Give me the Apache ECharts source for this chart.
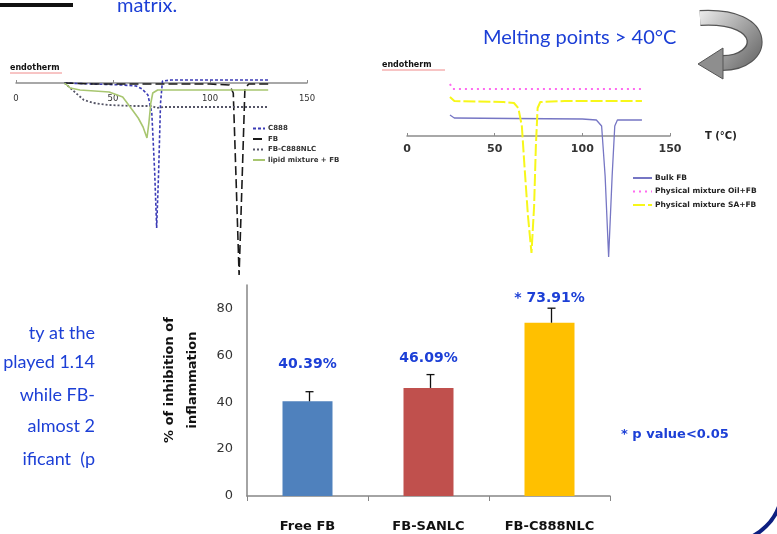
<!DOCTYPE html>
<html>
<head>
<meta charset="utf-8">
<script src="https://cdn.jsdelivr.net/npm/echarts@6/dist/echarts.min.js"></script>
<style>
  html, body { margin: 0; padding: 0; background: #ffffff; }
  #chart { width: 777px; height: 534px; }
</style>
</head>
<body>
<div id="chart"></div>
<script>
// ---------- Bar chart data ----------
const barCategories = ['Free FB', 'FB-SANLC', 'FB-C888NLC'];
const barValues = [40.39, 46.09, 73.91];
const barErrors = [4.1, 5.7, 6.2];
const barLabels = ['40.39%', '46.09%', '* 73.91%'];
const barAxisMin = 0;
const barAxisMax = 90;
const barAxisInterval = 20;
const barAxisName = '% of inhibition of\ninflammation';

// ---------- DSC thermograms (left panel) : [T (°C), heat flow (a.u.)] ----------
const dscLeftNames = ['C888', 'FB', 'FB-C888NLC', 'lipid mixture + FB'];
const dscLeftC888 = [[25,0],[40,-1],[55,-2],[62,-3],[65,-6],[68,-12],[70,-30],[71.5,-90],[72.5,-145],[73.5,-90],[74.5,-20],[75.5,2],[80,3],[130,3]];
const dscLeftFB = [[25,0],[40,-1],[60,-1],[80,-1],[100,-1],[110,-2],[112,-10],[113.5,-100],[115,-192],[116.5,-100],[118,-5],[120,-1],[130,-1]];
const dscLeftNLC = [[25,0],[28,-5],[32,-12],[35,-17],[40,-20],[48,-22],[60,-23],[70,-23],[72.5,-25],[76,-24],[100,-24],[130,-24]];
const dscLeftMix = [[25,0],[28,-5],[33,-7],[48,-9],[55,-14],[60,-27],[63,-35],[65.5,-44],[67.5,-55],[68.5,-40],[69.5,-20],[70.5,-10],[73,-7],[130,-7]];

// ---------- DSC thermograms (right panel) ----------
const dscRightNames = ['Bulk FB', 'Physical mixture Oil+FB', 'Physical mixture SA+FB'];
const dscRightBulk = [[24.5,21],[27,18],[60,17.5],[100,17],[108,16],[111,10],[113,-40],[115,-121],[117,-40],[118.5,10],[120,16],[134,16]];
const dscRightOil = [[24.5,52],[26,47],[134,47]];
const dscRightSA = [[24.5,39],[27,35],[40,34.5],[55,34],[61,33],[63.5,28],[65.5,10],[67,-30],[69,-80],[71,-117],[72.5,-70],[73.5,-10],[74.5,28],[76,34],[90,35],[134,35]];

// ---------- Slide texts ----------
const sideTextLines = ['ty at the', 'played 1.14', 'while FB-', 'almost 2', 'ificant  (p'];
const headerText = 'matrix.';
const meltingText = 'Melting points > 40\u00B0C';
const pValueText = '* p value<0.05';
const endothermText = 'endotherm';
const tempAxisName = 'T (\u00B0C)';

const BLUE = '#1c3fd6';
const chart = echarts.init(document.getElementById('chart'), null, { renderer: 'canvas' });

const barColors = ['#4f81bd', '#c0504d', '#ffc000'];
const labelGaps = [30, 23, 17];

function dscXAxis(gridIndex, labelSize, labelWeight, margin, name) {
  return {
    type: 'value', gridIndex: gridIndex, min: 0, max: 150, interval: 50,
    name: name || '', nameLocation: 'end', nameGap: 35,
    nameTextStyle: { fontSize: 10, fontWeight: 'bold', color: '#222', fontFamily: 'DejaVu Sans', padding: [12, 0, 0, 0] },
    axisLine: { onZero: false, lineStyle: { color: '#8c8c8c', width: 1.5 } },
    axisTick: { show: true, inside: true, length: 3, lineStyle: { color: '#8c8c8c' } },
    axisLabel: { fontSize: labelSize, color: '#333', margin: margin, fontFamily: 'DejaVu Sans', fontWeight: labelWeight },
    splitLine: { show: false }
  };
}

function line(name, data, xi, color, type, width) {
  return {
    name: name, type: 'line', xAxisIndex: xi, yAxisIndex: xi, data: data,
    symbol: 'none', smooth: false, silent: true, animation: false, clip: false,
    lineStyle: { color: color, type: type, width: width },
    itemStyle: { color: color }
  };
}

const arrowGradient = new echarts.graphic.LinearGradient(0, 0, 1, 1, [
  { offset: 0, color: '#f4f4f4' }, { offset: 0.5, color: '#a8a8a8' }, { offset: 1, color: '#606060' }
]);

const option = {
  animation: false,
  backgroundColor: '#ffffff',
  grid: [
    { left: 16, right: 470, top: 63, height: 20 },
    { left: 407, right: 107, top: 66, height: 70 },
    { left: 247, right: 167, top: 285, bottom: 38 }
  ],
  legend: [
    {
      data: dscLeftNames, orient: 'vertical', left: 247, top: 120,
      itemWidth: 12, itemHeight: 8, itemGap: 3.5, selectedMode: false,
      itemStyle: { opacity: 0 },
      textStyle: { fontSize: 7, fontWeight: 'bold', color: '#333', fontFamily: 'DejaVu Sans', padding: [0, 0, 0, -2] }
    },
    {
      data: dscRightNames, orient: 'vertical', left: 627, top: 169,
      itemWidth: 19, itemHeight: 8, itemGap: 5.5, selectedMode: false,
      itemStyle: { opacity: 0 },
      textStyle: { fontSize: 7.5, fontWeight: 'bold', color: '#222', fontFamily: 'DejaVu Sans', padding: [0, 0, 0, -2] }
    }
  ],
  xAxis: [
    dscXAxis(0, 8.5, 'normal', 11),
    dscXAxis(1, 11, 'bold', 8, tempAxisName),
    {
      type: 'category', gridIndex: 2, data: barCategories,
      axisLine: { lineStyle: { color: '#868686', width: 1.5 } },
      axisTick: { show: true, length: 5, lineStyle: { color: '#868686' } },
      axisLabel: { fontSize: 13, fontWeight: 'bold', color: '#111', margin: 24, fontFamily: 'DejaVu Sans' }
    }
  ],
  yAxis: [
    { type: 'value', gridIndex: 0, min: 0, max: 20, show: false },
    { type: 'value', gridIndex: 1, min: 0, max: 70, show: false },
    {
      type: 'value', gridIndex: 2, min: barAxisMin, max: barAxisMax, interval: barAxisInterval,
      axisLine: { show: true, lineStyle: { color: '#868686', width: 1.5 } },
      axisTick: { show: false },
      splitLine: { show: false },
      axisLabel: {
        fontSize: 13, color: '#333', margin: 14, fontFamily: 'DejaVu Sans',
        formatter: function (v) { return v > 80 ? '' : String(v); }
      }
    }
  ],
  series: [
    line(dscLeftNames[0], dscLeftC888, 0, '#3b3bb5', [3, 2], 1.6),
    line(dscLeftNames[1], dscLeftFB, 0, '#1a1a1a', [9, 4], 1.6),
    line(dscLeftNames[2], dscLeftNLC, 0, '#555566', [2, 2], 1.8),
    line(dscLeftNames[3], dscLeftMix, 0, '#a8c670', 'solid', 1.6),
    line(dscRightNames[0], dscRightBulk, 1, '#7676c4', 'solid', 1.3),
    line(dscRightNames[1], dscRightOil, 1, '#ff6bf0', [2, 4], 2),
    line(dscRightNames[2], dscRightSA, 1, '#f7f71a', [12, 3], 2),
    {
      name: 'inhibition', type: 'bar', xAxisIndex: 2, yAxisIndex: 2, barWidth: 50,
      data: barValues.map(function (v, i) {
        return {
          value: v,
          itemStyle: { color: barColors[i] },
          label: { distance: labelGaps[i] }
        };
      }),
      label: {
        show: true, position: 'top', color: BLUE, fontSize: 14, fontWeight: 'bold', fontFamily: 'DejaVu Sans',
        formatter: function (p) { return barLabels[p.dataIndex]; }
      }
    },
    {
      name: 'error', type: 'custom', xAxisIndex: 2, yAxisIndex: 2, silent: true,
      data: barValues.map(function (v, i) { return [i, v, barErrors[i]]; }),
      encode: { x: 0, y: 1 },
      z: 5,
      renderItem: function (params, api) {
        const i = api.value(0), v = api.value(1), e = api.value(2);
        const b = api.coord([i, v]);
        const t = api.coord([i, v + e]);
        const st = { stroke: '#111', lineWidth: 1.3 };
        return {
          type: 'group',
          children: [
            { type: 'line', shape: { x1: b[0] + 2, y1: b[1], x2: t[0] + 2, y2: t[1] }, style: st },
            { type: 'line', shape: { x1: t[0] - 2, y1: t[1], x2: t[0] + 6, y2: t[1] }, style: st }
          ]
        };
      }
    }
  ],
  graphic: [
    // top-left header bar and text
    { type: 'rect', shape: { x: 0, y: 3, width: 73, height: 4 }, style: { fill: '#111' } },
    { type: 'text', x: 117, y: 16, style: { text: headerText, fill: BLUE, font: '20px Lato', verticalAlign: 'bottom' } },
    // melting points
    { type: 'text', x: 483, y: 38, style: { text: meltingText, fill: BLUE, font: '20px Lato', verticalAlign: 'middle' } },
    // curved arrow
    { type: 'bezierCurve', silent: true, shape: { x1: 700, y1: 18, cpx1: 772, cpy1: 14, cpx2: 766, cpy2: 64, x2: 721, y2: 63 }, style: { stroke: '#555', lineWidth: 16, fill: null } },
    { type: 'bezierCurve', silent: true, shape: { x1: 700, y1: 18, cpx1: 772, cpy1: 14, cpx2: 766, cpy2: 64, x2: 722, y2: 63 }, style: { stroke: arrowGradient, lineWidth: 13.5, fill: null } },
    { type: 'polygon', silent: true, shape: { points: [[723, 48], [698, 64], [723, 79]] }, style: { fill: '#8e8e8e', stroke: '#555', lineWidth: 1 } },
    // endotherm labels
    { type: 'text', x: 10, y: 68, style: { text: endothermText, fill: '#111', font: 'bold 8px DejaVu Sans', verticalAlign: 'middle' } },
    { type: 'line', shape: { x1: 10, y1: 73, x2: 62, y2: 73 }, style: { stroke: '#f08a8a', lineWidth: 1 } },
    { type: 'text', x: 382, y: 65, style: { text: endothermText, fill: '#111', font: 'bold 8px DejaVu Sans', verticalAlign: 'middle' } },
    { type: 'line', shape: { x1: 382, y1: 70, x2: 445, y2: 70 }, style: { stroke: '#f08a8a', lineWidth: 1 } },
    // bar chart y-axis name
    {
      type: 'text', x: 181, y: 380, rotation: Math.PI / 2,
      style: { text: barAxisName, fill: '#111', font: 'bold 13px DejaVu Sans', align: 'center', verticalAlign: 'middle', lineHeight: 23 }
    },
    // p value
    { type: 'text', x: 621, y: 435, style: { text: pValueText, fill: BLUE, font: 'bold 13px DejaVu Sans', verticalAlign: 'middle' } },
    // left paragraph (right-aligned lines)
    { type: 'text', x: 95, y: 333, style: { text: sideTextLines[0], fill: BLUE, font: '18px Lato', align: 'right', verticalAlign: 'middle' } },
    { type: 'text', x: 95, y: 362, style: { text: sideTextLines[1], fill: BLUE, font: '18px Lato', align: 'right', verticalAlign: 'middle' } },
    { type: 'text', x: 95, y: 395, style: { text: sideTextLines[2], fill: BLUE, font: '18px Lato', align: 'right', verticalAlign: 'middle' } },
    { type: 'text', x: 95, y: 426, style: { text: sideTextLines[3], fill: BLUE, font: '18px Lato', align: 'right', verticalAlign: 'middle' } },
    { type: 'text', x: 95, y: 459, style: { text: sideTextLines[4], fill: BLUE, font: '18px Lato', align: 'right', verticalAlign: 'middle' } },
    // bottom-right decorative arc
    { type: 'arc', shape: { cx: 728, cy: 488, r: 54, startAngle: 0, endAngle: Math.PI / 2 }, style: { stroke: '#0d1f80', lineWidth: 4, fill: null } }
  ]
};

chart.setOption(option);
</script>
</body>
</html>
